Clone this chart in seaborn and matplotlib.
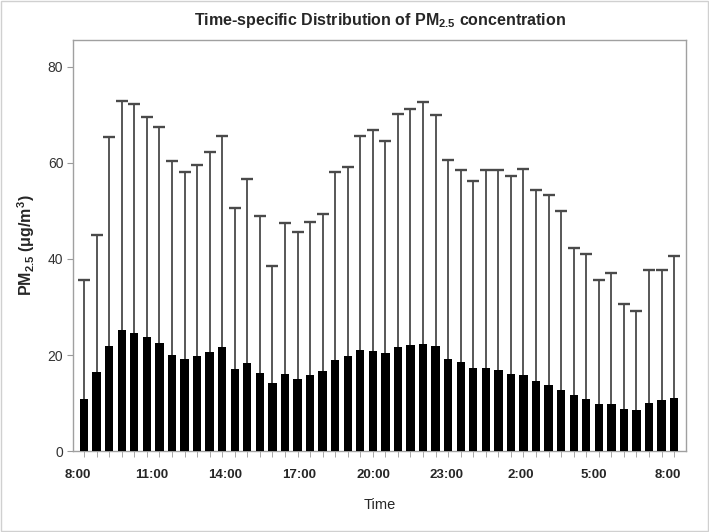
import numpy as np
import pandas as pd
import matplotlib.pyplot as plt
import seaborn as sns

# half-hour slots from 8:00, mean PM2.5 and top of whisker
slot = list(range(48))
media = [10.8, 16.5, 21.9, 25.2, 24.5, 23.7, 22.6, 20.1, 19.2, 19.9, 20.6, 21.6,
         17.2, 18.3, 16.3, 14.2, 16.0, 15.1, 15.8, 16.7, 19.0, 19.7, 21.0, 20.8,
         20.4, 21.7, 22.0, 22.3, 21.8, 19.2, 18.5, 17.3, 17.3, 16.9, 16.0, 15.8,
         14.6, 13.8, 12.8, 11.6, 10.9, 9.9, 9.9, 8.8, 8.5, 10.1, 10.6, 11.1]
superior = [35.6, 45.0, 65.4, 72.8, 72.2, 69.5, 67.4, 60.4, 58.2, 59.6, 62.2, 65.5,
            50.6, 56.6, 48.9, 38.6, 47.4, 45.6, 47.6, 49.3, 58.1, 59.2, 65.6, 66.8,
            64.6, 70.2, 71.3, 72.6, 69.9, 60.7, 58.6, 56.2, 58.5, 58.5, 57.3, 58.8,
            54.4, 53.4, 49.9, 42.3, 41.0, 35.6, 37.1, 30.6, 29.1, 37.7, 37.7, 40.6]
rotulos = ['8:00', '11:00', '14:00', '17:00', '20:00', '23:00', '2:00', '5:00', '8:00']

df = pd.DataFrame({'slot': slot, 'media': media, 'sup': superior})

sns.set_style('white')
plt.rcParams['font.family'] = ['Liberation Sans', 'DejaVu Sans']
plt.rcParams['mathtext.fontset'] = 'custom'
plt.rcParams['mathtext.rm'] = 'Liberation Sans'
plt.rcParams['mathtext.bf'] = 'Liberation Sans:bold'

fig = plt.figure(figsize=(7.09, 5.32), dpi=100)
ax = fig.add_axes([0.103, 0.152, 0.865, 0.773])

sns.barplot(x='slot', y='media', data=df, color='black', width=0.66,
            saturation=1, errorbar=None, native_scale=True, ax=ax,
            linewidth=0, zorder=3)
eb = ax.errorbar(df['slot'], df['media'], yerr=[np.zeros(len(df)), df['sup'] - df['media']],
                 fmt='none', ecolor='#4a4a4a', elinewidth=1.3, capsize=4.5, capthick=1.7, zorder=2)
eb[1][0].set_visible(False)  # only the upper cap

ax.set_xlim(-0.88, 47.97)
ax.set_ylim(0, 85.6)
ax.set_yticks([0, 20, 40, 60, 80])
ax.tick_params(axis='y', left=True, length=4, color='#9a9a9a', labelsize=10,
               labelcolor='#333333', pad=3)

# labels every 3 hours, small ticks under every bar
ax.set_xticks(np.linspace(-0.48, 46.5, len(rotulos)))
ax.set_xticklabels(rotulos, fontweight='bold', fontsize=9.5)
ax.tick_params(axis='x', bottom=True, length=0, pad=13)
ax.set_xticks(slot, minor=True)
ax.tick_params(axis='x', which='minor', bottom=True, length=4, color='#9a9a9a')

for s in ax.spines.values():
    s.set_color('#a0a0a0')
    s.set_linewidth(1)

ax.set_xlabel('Time', fontsize=10.5, labelpad=12)
ax.set_ylabel(r'PM$_\mathbf{2.5}$ (μg/m$^\mathbf{3}$)', fontsize=11.5, fontweight='bold', labelpad=8)
ax.set_title(r'Time-specific Distribution of PM$_\mathbf{2.5}$ concentration',
             fontsize=11.5, fontweight='bold', pad=11)

fig.patches.append(plt.Rectangle((0.002, 0.002), 0.996, 0.996, transform=fig.transFigure,
                                 fill=False, edgecolor='#d0d0d0', linewidth=1))

plt.savefig('out.png', dpi=100)
